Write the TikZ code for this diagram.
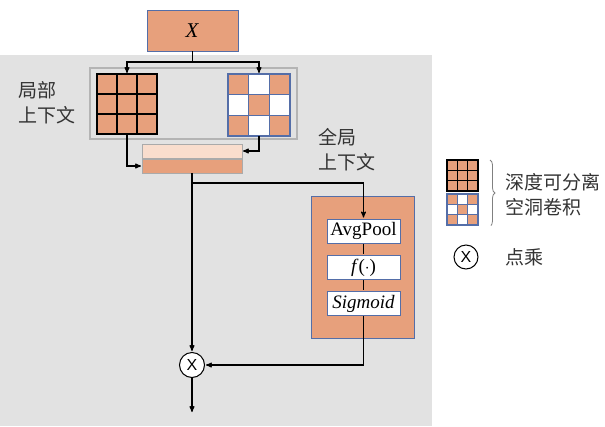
\documentclass[tikz,border=0pt]{standalone}
\usepackage{fontspec}
\setmainfont{Liberation Serif}
\newfontfamily\cjk{Noto Sans CJK SC}
\newfontfamily\sansx{Liberation Sans}
\usetikzlibrary{arrows, calc, positioning, decorations.pathreplacing}
\definecolor{peach}{RGB}{231,160,124}
\definecolor{lightpeach}{RGB}{249,221,205}
\definecolor{bggray}{RGB}{226,226,226}
\definecolor{framegray}{RGB}{180,180,180}
\definecolor{bargray}{RGB}{170,170,170}
\definecolor{steelblue}{RGB}{84,110,168}
\tikzset{big font/.style={font=\fontsize{19}{25}\selectfont}}
\tikzset{cn labels/.style={font=\cjk\fontsize{19}{25}\selectfont,align=left,inner sep=0pt,anchor=west,text=black!80}}
\tikzset{peach box/.style={draw=steelblue,fill=peach,line width=0.9pt,inner sep=0pt,outer sep=0pt}}
\tikzset{white box/.style={draw=steelblue,fill=white,line width=1pt,minimum width=73pt,minimum height=24pt,inner sep=0pt,big font}}
\tikzset{bar/.style={draw=bargray,line width=0.8pt,minimum width=100pt,minimum height=14pt,inner sep=0pt,outer sep=0pt}}
\tikzset{dark cell/.style={fill=peach,draw=black,line width=1.6pt}}
\tikzset{hole cell/.style={draw=steelblue,line width=1.4pt}}
\tikzset{mult/.style={circle,draw=black,fill=white,line width=1pt,minimum size=25pt,inner sep=0pt,font=\sansx\fontsize{16}{16}\selectfont}}
\tikzset{wire/.style={line width=1.1pt}}
\newcommand{\darkgrid}[2]{%
  \foreach \i in {0,1,2} \foreach \j in {0,1,2}
    \draw[dark cell] ($(#1)+(#2*\i,#2*\j)$) rectangle +(#2,#2);}
\newcommand{\holegrid}[2]{%
  \foreach \i in {0,1,2} \foreach \j in {0,1,2}
    \draw[hole cell,fill=white] ($(#1)+(#2*\i,#2*\j)$) rectangle +(#2,#2);
  \foreach \i/\j in {0/0,2/0,1/1,0/2,2/2}
    \draw[hole cell,fill=peach] ($(#1)+(#2*\i,#2*\j)$) rectangle +(#2,#2);}

\begin{document}
\begin{tikzpicture}[x=1pt,y=-1pt,>=stealth',shorten >=1pt]
  \useasboundingbox (0,0) rectangle (605,426);
  \fill[bggray] (0,55) rectangle (432,426);

  % input and the two context branches
  \node[peach box,minimum width=91pt,minimum height=41pt,font=\fontsize{21}{21}\selectfont](x) at (192.5,30.5){\textit{X}};
  \node[draw=framegray,line width=1.2pt,minimum width=207pt,minimum height=71pt](ctx) at (193.5,103.5){};
  \node[minimum size=60pt,inner sep=0pt,outer sep=0pt](lgrid) at (127,104){};
  \node[minimum size=62pt,inner sep=0pt,outer sep=0pt](rgrid) at (259,105){};
  \darkgrid{lgrid.north west}{20}
  \holegrid{rgrid.north west}{20.67}
  \node[cn labels](loc) at (18,102.5){局部\\上下文};

  \node[bar,fill=lightpeach](bartop) at (192,151){};
  \node[bar,fill=peach](barbot) at (192,166){};
  \node[cn labels](glob) at (318,150){全局\\上下文};

  % attention module
  \node[peach box,minimum width=103pt,minimum height=142pt](se) at (362.5,267){};
  \node[white box](pool) at (363.5,231){AvgPool};
  \node[white box](fx) at (363.5,267.5){\textit{f}(\(\cdot\))};
  \node[white box](sig) at (363.5,303.5){\textit{Sigmoid}};
  \node[mult](mul) at (192,365){X};
  \coordinate (out) at (192,413);

  \draw[wire,->] (x.south) -- ++(0,11) coordinate (split) -| (lgrid.north);
  \draw[wire,->] (split) -| (rgrid.north);
  \draw[wire,->] (lgrid.south) |- (barbot.west);
  \draw[wire,->] (rgrid.south) |- (bartop.east);
  \draw[wire] (barbot.south) -- ++(0,10) coordinate (br);
  \draw[wire,->] (br) -| (pool.north);
  \draw[wire,->] (barbot.south) -- (mul.north);
  \draw[wire] (pool) -- (fx);
  \draw[wire] (fx) -- (sig);
  \draw[wire,->] (sig.south) |- (mul.east);
  \draw[wire,->] (mul.south) -- (out);

  % legend
  \coordinate (lk) at (447,160);
  \coordinate (lh) at (447,194);
  \darkgrid{lk}{10.3}
  \holegrid{lh}{10.3}
  \draw[gray,line width=0.8pt,decorate,decoration={brace,amplitude=5pt}] (490,160) -- (490,226);
  \node[cn labels](kind) at (505,194.5){深度可分离\\空洞卷积};
  \node[mult,minimum size=24pt](lmul) at (466,257){X};
  \node[cn labels](dot) at (505,257){点乘};
\end{tikzpicture}
\end{document}
